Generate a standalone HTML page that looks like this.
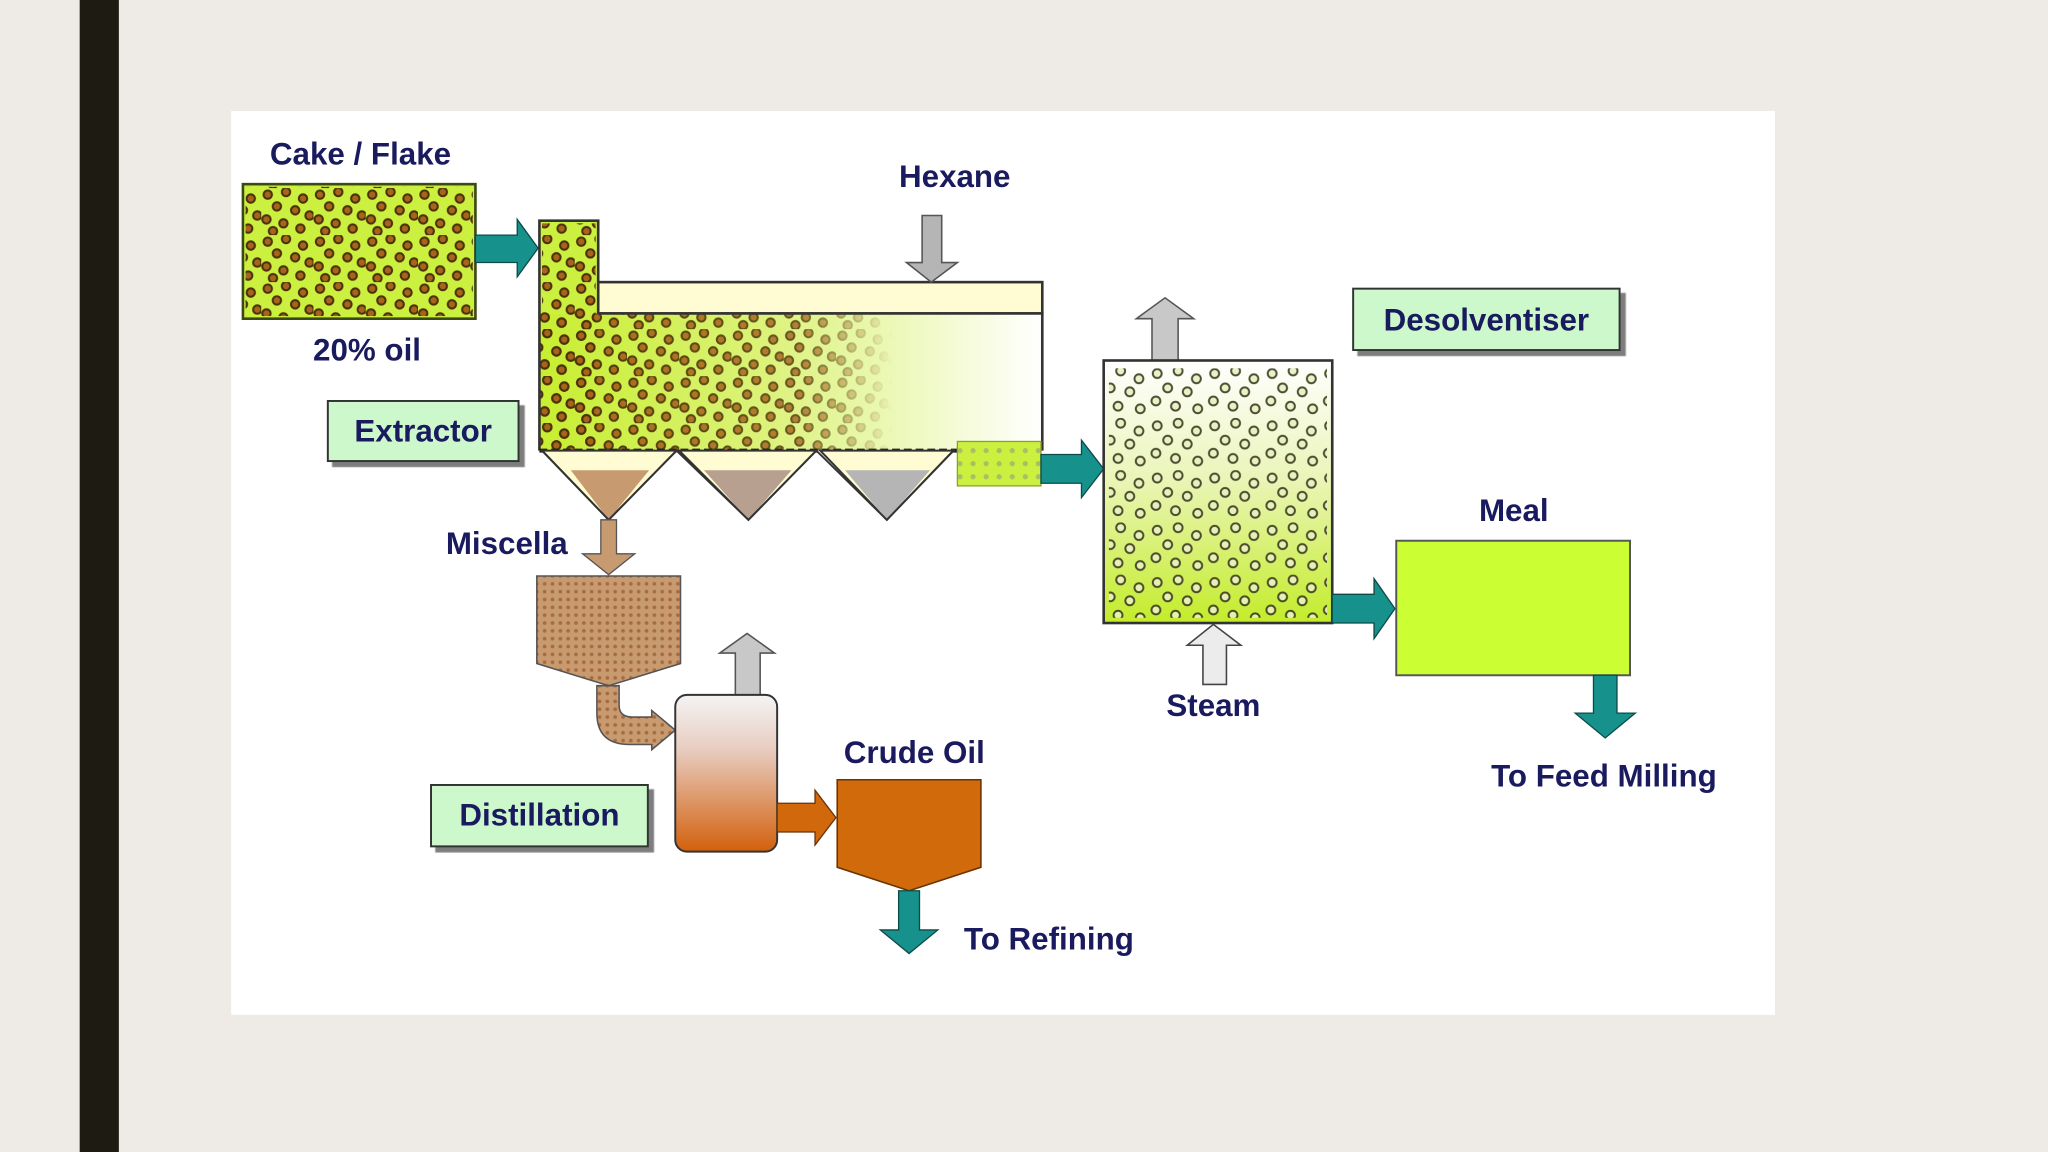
<!DOCTYPE html>
<html><head><meta charset="utf-8"><style>
html,body{margin:0;padding:0;background:#eeebe6;}
svg{display:block;}
text{font-family:"Liberation Sans",Arial,sans-serif;font-weight:bold;fill:#1a1a5e;}
</style></head><body>
<svg width="2048" height="1152" viewBox="0 0 1568 882" xmlns="http://www.w3.org/2000/svg">
<defs>
  <pattern id="dots" width="40" height="36" patternUnits="userSpaceOnUse">
    <g fill="#a8641c" stroke="#4a3208" stroke-width="1.6">
      <circle cx="5" cy="5" r="3.2"/><circle cx="19" cy="3" r="3.2"/><circle cx="32" cy="8" r="3.2"/>
      <circle cx="12" cy="14" r="3.2"/><circle cx="26" cy="17" r="3.2"/><circle cx="37" cy="21" r="3.2"/>
      <circle cx="4" cy="24" r="3.2"/><circle cx="17" cy="27" r="3.2"/><circle cx="30" cy="31" r="3.2"/>
      <circle cx="9" cy="33" r="3.2"/>
    </g>
  </pattern>
  <pattern id="dots2" width="44" height="40" patternUnits="userSpaceOnUse">
    <g fill="#e8f0c0" stroke="#3a3a20" stroke-width="1.5">
      <circle cx="6" cy="6" r="3.4"/><circle cx="22" cy="4" r="3.4"/><circle cx="36" cy="10" r="3.4"/>
      <circle cx="14" cy="17" r="3.4"/><circle cx="29" cy="20" r="3.4"/>
      <circle cx="5" cy="27" r="3.4"/><circle cx="20" cy="31" r="3.4"/><circle cx="37" cy="33" r="3.4"/>
    </g>
  </pattern>
  <pattern id="fine" width="6" height="6" patternUnits="userSpaceOnUse">
    <rect width="6" height="6" fill="#c89a70"/><circle cx="3" cy="3" r="1.4" fill="#a86a40"/>
  </pattern>
  <pattern id="gdots" width="10" height="10" patternUnits="userSpaceOnUse">
    <rect width="10" height="10" fill="#ccf040"/><circle cx="5" cy="5" r="2" fill="#a9c060"/>
  </pattern>
  <linearGradient id="extg" x1="0" x2="1" y1="0" y2="0">
    <stop offset="0" stop-color="#c8ee30"/><stop offset="0.45" stop-color="#dcf27a"/><stop offset="1" stop-color="#ffffff"/>
  </linearGradient>
  <linearGradient id="fadeR" x1="0" x2="1" y1="0" y2="0">
    <stop offset="0" stop-color="#fff"/><stop offset="0.6" stop-color="#fff" stop-opacity="0.8"/><stop offset="0.82" stop-color="#fff" stop-opacity="0"/>
  </linearGradient>
  <mask id="extMask"><rect x="413" y="240" width="330" height="105" fill="url(#fadeR)"/></mask>
  <linearGradient id="desg" x1="0" x2="0" y1="0" y2="1">
    <stop offset="0" stop-color="#ffffff"/><stop offset="0.45" stop-color="#eaf5b8"/><stop offset="1" stop-color="#c4ec2a"/>
  </linearGradient>
  <linearGradient id="distg" x1="0" x2="0" y1="0" y2="1">
    <stop offset="0" stop-color="#f4f4f4"/><stop offset="0.35" stop-color="#e8ccc0"/><stop offset="1" stop-color="#d2600c"/>
  </linearGradient>
  <filter id="sh"><feDropShadow dx="4" dy="4" stdDeviation="0.5" flood-color="#444" flood-opacity="0.7"/></filter>
</defs>

<rect x="0" y="0" width="1568" height="882" fill="#eeebe6"/>
<rect x="61" y="0" width="30" height="882" fill="#1e1c12"/>
<rect x="177" y="85" width="1182" height="692" fill="#ffffff"/>

<!-- Cake / Flake -->
<text x="276" y="126" font-size="24" text-anchor="middle">Cake / Flake</text>
<rect x="186" y="141" width="178" height="103" fill="#ccf040" stroke="#3a4a10" stroke-width="2"/>
<rect x="188" y="143" width="174" height="99" fill="url(#dots)"/>
<text x="281" y="276" font-size="24" text-anchor="middle">20% oil</text>
<polygon points="364,180 396,180 396,168 412,190 396,212 396,201 364,201" fill="#16918c" stroke="#0d4a48" stroke-width="1"/>

<!-- Extractor -->
<rect x="458" y="216" width="340" height="24" fill="#fffbd2" stroke="#333" stroke-width="2"/>
<rect x="413" y="240" width="385" height="105" fill="url(#extg)"/>
<rect x="413" y="169" width="45" height="71" fill="#ccf040"/>
<rect x="415" y="171" width="41" height="170" fill="url(#dots)"/>
<rect x="413" y="240" width="330" height="105" fill="url(#dots)" mask="url(#extMask)"/>
<path d="M458,240 L798,240 L798,345 M413,345 L413,169 L458,169 L458,240" fill="none" stroke="#333" stroke-width="2"/>
<line x1="413" y1="345" x2="733" y2="345" stroke="#222" stroke-width="3" stroke-dasharray="6,3"/>
<rect x="733" y="338" width="64" height="34" fill="url(#gdots)" stroke="#8aa030" stroke-width="1"/>
<polygon points="797,348 828,348 828,337 845,359 828,381 828,370 797,370" fill="#16918c" stroke="#0d4a48" stroke-width="1"/>

<!-- hoppers -->
<g stroke="#333" stroke-width="1.5">
  <polygon points="415,345 518,345 466,398" fill="#fffbd2"/>
  <polygon points="437,360 497,360 466,398" fill="#c89a70" stroke="none"/>
  <polygon points="520,345 625,345 573,398" fill="#fffbd2"/>
  <polygon points="539,360 606,360 573,398" fill="#b8a090" stroke="none"/>
  <polygon points="628,345 730,345 679,398" fill="#fffbd2"/>
  <polygon points="647,360 712,360 679,398" fill="#b5b5b5" stroke="none"/>
  <polyline points="415,345 466,398 518,345 573,398 625,345 679,398 730,345" fill="none"/>
</g>
<rect x="251" y="307" width="146" height="46" fill="#ccf8cc" stroke="#333" stroke-width="1.5" filter="url(#sh)"/>
<text x="324" y="338" font-size="24" text-anchor="middle">Extractor</text>

<!-- Hexane -->
<text x="731" y="143" font-size="24" text-anchor="middle">Hexane</text>
<polygon points="706,165 721,165 721,201 733,201 713,216 694,201 706,201" fill="#b5b5b5" stroke="#555" stroke-width="1.2"/>

<!-- Miscella -->
<text x="388" y="424" font-size="24" text-anchor="middle">Miscella</text>
<polygon points="460,398 472,398 472,424 486,424 466,440 446,424 460,424" fill="#c89a70" stroke="#555" stroke-width="1"/>
<polygon points="411,441 521,441 521,508 466,525 411,508" fill="url(#fine)" stroke="#555" stroke-width="1.2"/>
<path d="M456,525 L456,545 Q456,562 474,562 L500,562 L500,552 L517,560 L500,570 L500,570 L474,570 Q448,570 448,545 Z" fill="none"/>
<path d="M457,525 L474,525 L474,540 Q474,549 484,549 L499,549 L499,544 L517,559 L499,574 L499,570 L482,570 Q457,570 457,546 Z" fill="url(#fine)" stroke="#555" stroke-width="1.2"/>

<!-- Distillation column -->
<polygon points="563,532 563,500 551,500 572,485 593,500 582,500 582,532" fill="#c8c8c8" stroke="#555" stroke-width="1.2"/>
<rect x="517" y="532" width="78" height="120" rx="9" fill="url(#distg)" stroke="#333" stroke-width="1.5"/>
<rect x="330" y="601" width="166" height="47" fill="#ccf8cc" stroke="#333" stroke-width="1.5" filter="url(#sh)"/>
<text x="413" y="632" font-size="24" text-anchor="middle">Distillation</text>
<polygon points="595,615 624,615 624,605 640,626 624,647 624,637 595,637" fill="#d2680c" stroke="#6a3306" stroke-width="1"/>
<text x="700" y="584" font-size="24" text-anchor="middle">Crude Oil</text>
<polygon points="641,597 751,597 751,664 696,682 641,664" fill="#d06a0a" stroke="#6a3306" stroke-width="1.2"/>
<polygon points="688,682 704,682 704,712 718,712 696,730 674,712 688,712" fill="#16918c" stroke="#0d4a48" stroke-width="1"/>
<text x="738" y="727" font-size="24">To Refining</text>

<!-- Desolventiser -->
<polygon points="882,276 882,244 870,244 892,228 914,244 902,244 902,276" fill="#c8c8c8" stroke="#555" stroke-width="1.2"/>
<rect x="845" y="276" width="175" height="201" fill="url(#desg)" stroke="#333" stroke-width="2"/>
<rect x="849" y="282" width="167" height="191" fill="url(#dots2)" opacity="0.9"/>
<rect x="1036" y="221" width="204" height="47" fill="#ccf8cc" stroke="#333" stroke-width="1.5" filter="url(#sh)"/>
<text x="1138" y="253" font-size="24" text-anchor="middle">Desolventiser</text>
<polygon points="921,524 921,494 909,494 929,478 950,494 939,494 939,524" fill="#ececec" stroke="#444" stroke-width="1.2"/>
<text x="929" y="548" font-size="24" text-anchor="middle">Steam</text>
<polygon points="1020,455 1052,455 1052,443 1068,466 1052,489 1052,477 1020,477" fill="#16918c" stroke="#0d4a48" stroke-width="1"/>

<!-- Meal -->
<text x="1159" y="399" font-size="24" text-anchor="middle">Meal</text>
<rect x="1069" y="414" width="179" height="103" fill="#ccff33" stroke="#555" stroke-width="1.5"/>
<polygon points="1220,517 1238,517 1238,546 1252,546 1229,565 1206,546 1220,546" fill="#16918c" stroke="#0d4a48" stroke-width="1"/>
<text x="1228" y="602" font-size="24" text-anchor="middle">To Feed Milling</text>
</svg>
</body></html>
